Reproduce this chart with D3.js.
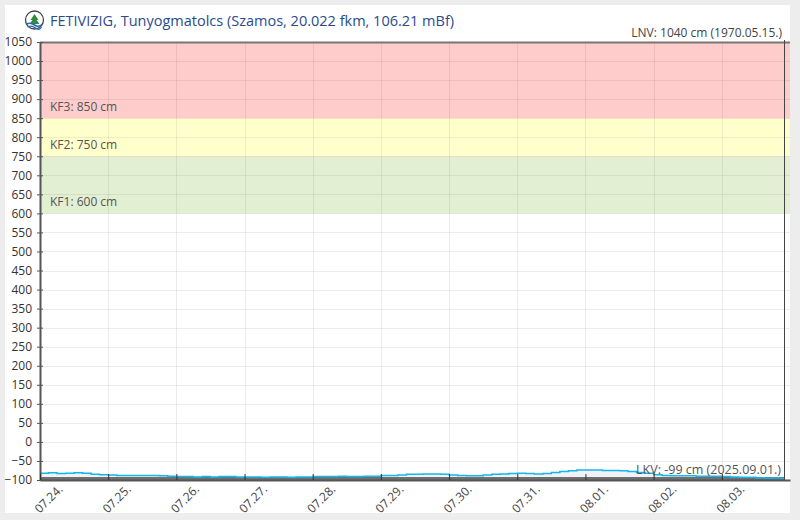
<!DOCTYPE html>
<html>
<head>
<meta charset="utf-8">
<script src="https://cdn.jsdelivr.net/npm/d3@7"></script>
<style>
  html, body { margin: 0; padding: 0; background: #ededed; }
  svg { display: block; font-family: "Open Sans", "DejaVu Sans", sans-serif; }
</style>
</head>
<body>
<div id="chart"></div>
<script>
// Vízállás (cm), 3 óránként, 2025.07.24. 00:00-tól
var levelStart = '2025-07-24T00:00';
var levelValues = [
  -82, -81, -83, -82, -81, -82, -85, -86,   // 07.24.
  -87, -88, -88, -88, -88, -88, -89, -90,   // 07.25.
  -91, -91, -92, -91, -92, -91, -91, -92,   // 07.26.
  -92, -92, -93, -92, -92, -93, -92, -92,   // 07.27.
  -91, -91, -91, -90, -91, -91, -90, -90,   // 07.28.
  -88, -88, -87, -85, -85, -84, -84, -85,   // 07.29.
  -87, -88, -89, -89, -87, -85, -84, -83,   // 07.30.
  -82, -83, -84, -83, -80, -78, -76, -74,   // 07.31.
  -74, -74, -75, -75, -76, -78, -80, -82,   // 08.01.
  -86, -88, -89, -89, -89, -90, -90, -90,   // 08.02.
  -91, -92, -93, -93, -94, -95, -95, -96    // 08.03.
];
var stepHours = 3;
var lastReading = '2025-08-03T22:00';

// Küszöbértékek (cm)
var bandNames = ['KF1: 600 cm', 'KF2: 750 cm', 'KF3: 850 cm'];
var bandFrom = [600, 750, 850];
var bandTo = [750, 850, 1050];
var bandColors = ['#e3efd3', '#ffffcc', '#ffcccc'];

var lnvText = 'LNV: 1040 cm (1970.05.15.)';
var lkvText = 'LKV: -99 cm (2025.09.01.)';
var title = 'FETIVIZIG, Tunyogmatolcs (Szamos, 20.022 fkm, 106.21 mBf)';

var yMin = -100, yMax = 1050, yStep = 50;
var xStart = '2025-07-24T00:00', xEnd = '2025-08-04T00:00';

function createChart() {
  var canvasWidth = 800;
  var canvasHeight = 520;

  var margin = { top: 42, right: 10, left: 40, bottom: 40 };
  var w = canvasWidth - margin.left - margin.right;
  var h = canvasHeight - margin.top - margin.bottom;

  var svg = d3.select('#chart')
    .append('svg')
    .attr('width', canvasWidth)
    .attr('height', canvasHeight);

  // fehér panel
  svg.append('rect')
    .attr('x', 5).attr('y', 5)
    .attr('width', 785).attr('height', 508)
    .style('fill', '#fff');

  // logó
  var logo = svg.append('g').attr('transform', 'translate(34.5,20)');
  logo.append('circle').attr('r', 9).style('fill', '#fff').style('stroke', '#444').style('stroke-width', 1.3);
  logo.append('path').attr('d', 'M0,-6 L4,0 L2,0 L5,4 L-5,4 L-2,0 L-4,0 Z').style('fill', '#2e8a3c');
  logo.append('path').attr('d', 'M-8,4 Q-4,2 0,5 T8,4').style('fill', 'none').style('stroke', '#2b6cb0').style('stroke-width', 1.6);
  logo.append('path').attr('d', 'M-7,7 Q-3,5 1,8 T7,7').style('fill', 'none').style('stroke', '#2b6cb0').style('stroke-width', 1.3);

  svg.append('text')
    .attr('x', 50).attr('y', 26)
    .style('font-size', '14.5px')
    .style('fill', '#2a4b8d')
    .text(title);

  var inner = svg.append('g')
    .attr('transform', 'translate(' + margin.left + ',' + margin.top + ')');

  return [svg, inner, w, h, margin];
}

function renderChart(svg, inner, w, h, margin) {
  var parse = d3.isoParse;
  var xScale = d3.scaleTime()
    .domain([parse(xStart), parse(xEnd)])
    .range([0, w]);

  var yScale = d3.scaleLinear()
    .domain([yMin, yMax])
    .range([h, 0]);

  var t0 = parse(levelStart);
  var data = levelValues.map((v, i) => ({
    date: d3.timeHour.offset(t0, i * stepHours),
    value: v
  }));
  data.push({ date: parse(lastReading), value: levelValues[levelValues.length - 1] });

  // színsávok
  inner.selectAll('rect.band')
    .data(bandFrom)
    .enter()
    .append('rect')
    .attr('class', 'band')
    .attr('x', 0)
    .attr('width', w)
    .attr('y', (d, i) => yScale(bandTo[i]))
    .attr('height', (d, i) => yScale(d) - yScale(bandTo[i]))
    .style('fill', (d, i) => bandColors[i]);

  // rácsvonalak
  var yTicks = d3.range(yMin, yMax + 1, yStep);
  inner.append('g')
    .selectAll('line')
    .data(yTicks)
    .enter()
    .append('line')
    .attr('x1', 0).attr('x2', w)
    .attr('y1', d => Math.round(yScale(d)) + 0.5)
    .attr('y2', d => Math.round(yScale(d)) + 0.5)
    .style('stroke', 'rgba(0,0,0,0.07)');

  var days = d3.timeDay.range(parse(xStart), parse(xEnd));
  inner.append('g')
    .selectAll('line')
    .data(days.slice(1))
    .enter()
    .append('line')
    .attr('y1', 0).attr('y2', h)
    .attr('x1', d => Math.round(xScale(d)) + 0.5)
    .attr('x2', d => Math.round(xScale(d)) + 0.5)
    .style('stroke', 'rgba(0,0,0,0.07)');

  // küszöb feliratok
  inner.selectAll('text.band-label')
    .data(bandNames)
    .enter()
    .append('text')
    .attr('x', 10)
    .attr('y', (d, i) => yScale(bandFrom[i]) - 7)
    .style('font-size', '12px')
    .style('fill', '#555')
    .text(d => d);

  // terület a vonal alatt
  var area = d3.area()
    .curve(d3.curveStepAfter)
    .x(d => xScale(d.date))
    .y0(h)
    .y1(d => yScale(d.value));

  inner.append('path')
    .datum(data)
    .attr('d', area)
    .style('fill', '#f1f2f6');

  inner.append('rect')
    .attr('x', 0)
    .attr('y', h - 3)
    .attr('width', xScale(parse(lastReading)))
    .attr('height', 3)
    .style('fill', '#6f6f6f');

  var line = d3.line()
    .curve(d3.curveStepAfter)
    .x(d => xScale(d.date))
    .y(d => yScale(d.value));

  inner.append('path')
    .datum(data)
    .attr('d', line)
    .style('fill', 'none')
    .style('stroke', '#14b6ec')
    .style('stroke-width', '1.5px');

  // felső szegély (LNV)
  inner.append('line')
    .attr('x1', 0).attr('x2', w)
    .attr('y1', 0.5).attr('y2', 0.5)
    .style('stroke', '#777')
    .style('stroke-width', 2);

  // utolsó mérés jelölő
  inner.append('line')
    .attr('x1', Math.round(xScale(parse(lastReading))) + 0.5)
    .attr('x2', Math.round(xScale(parse(lastReading))) + 0.5)
    .attr('y1', -2).attr('y2', h)
    .style('stroke', '#444')
    .style('stroke-width', 1);

  inner.append('text')
    .attr('x', w - 8)
    .attr('y', -5)
    .attr('text-anchor', 'end')
    .style('font-size', '12px')
    .style('fill', '#444')
    .text(lnvText);

  inner.append('text')
    .attr('x', w - 9)
    .attr('y', h - 6)
    .attr('text-anchor', 'end')
    .style('font-size', '12.5px')
    .style('fill', '#555')
    .text(lkvText);

  // y tengely
  var yAxis = d3.axisLeft(yScale)
    .tickValues(yTicks)
    .tickSize(5)
    .tickSizeOuter(0)
    .tickPadding(3)
    .tickFormat(d3.format('d'));

  var yG = inner.append('g').call(yAxis);
  yG.select('.domain').style('stroke', '#555').style('stroke-width', 2);
  yG.selectAll('.tick line').style('stroke', '#555').attr('x1', 3).attr('x2', -3);
  yG.selectAll('.tick text')
    .style('font-size', '12px')
    .style('font-family', '"Open Sans", sans-serif')
    .style('fill', '#333');

  // x tengely
  var xAxis = d3.axisBottom(xScale)
    .tickValues(days)
    .tickSize(6)
    .tickSizeOuter(0)
    .tickFormat(d3.timeFormat('%m.%d.'));

  var xG = inner.append('g')
    .attr('transform', 'translate(0,' + h + ')')
    .call(xAxis);
  xG.select('.domain').style('stroke', '#555').style('stroke-width', 2);
  xG.selectAll('.tick line').style('stroke', '#333').attr('y1', -6).attr('y2', 0);
  xG.selectAll('.tick text')
    .style('font-size', '12px')
    .style('font-family', '"Open Sans", sans-serif')
    .style('fill', '#444')
    .attr('text-anchor', 'end')
    .attr('dy', null)
    .attr('y', 0)
    .attr('transform', 'translate(23,10) rotate(-45)');
}

function init() {
  var c = createChart();
  renderChart(c[0], c[1], c[2], c[3], c[4]);
}

window.onload = init;
</script>
</body>
</html>
